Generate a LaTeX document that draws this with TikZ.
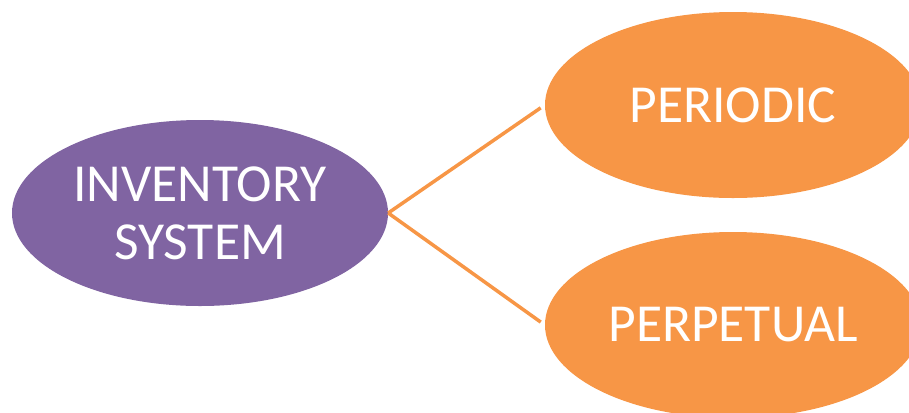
\documentclass[tikz,border=0pt]{standalone}
\usepackage{fontspec}
\setmainfont{Carlito}
\usetikzlibrary{shapes.geometric}
\definecolor{ipurple}{HTML}{8064A2}
\definecolor{iorange}{HTML}{F79646}
\tikzset{
  blob/.style={ellipse, inner sep=0pt, minimum width=376bp, minimum height=186bp,
    text=white, align=center, font=\fontsize{53.5bp}{58bp}\selectfont},
  link/.style={draw=iorange, line width=3.5bp, shorten >=5bp}
}
\begin{document}
\begin{tikzpicture}[x=1bp,y=-1bp]
\useasboundingbox (0,0) rectangle (909,412);
\clip (0,0) rectangle (909,412);
\node[blob, fill=ipurple] (inv) at (200,213) {INVENTORY\\SYSTEM};
\node[blob, fill=iorange] (per) at (733,105) {PERIODIC};
\node[blob, fill=iorange] (perp) at (733,325) {PERPETUAL};
\draw[link] (inv.east) -- (per.west);
\draw[link] (inv.east) -- (perp.west);
\end{tikzpicture}
\end{document}
